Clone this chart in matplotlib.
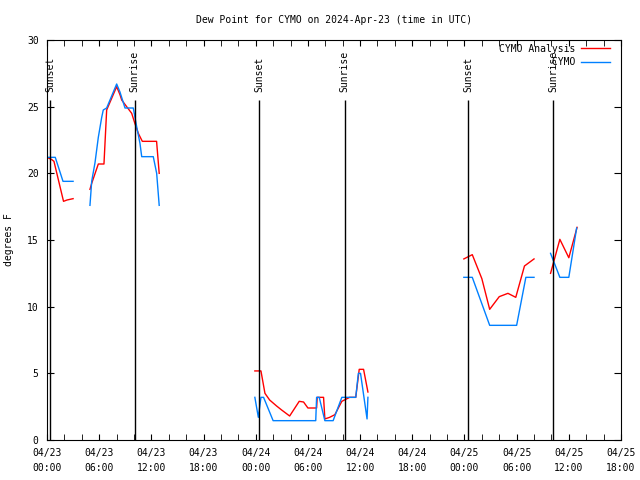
import matplotlib

matplotlib.use("Agg")

import matplotlib.pyplot as plt
import matplotlib.dates as mdates
import numpy as np
import pandas as pd

START = pd.Timestamp("2024-04-23 00:00")
END = pd.Timestamp("2024-04-25 18:00")

# hours after START; NaN marks a gap in the record
analysis_hours = [0.0, 0.5, 0.8, 1.9, 2.3, 3.0, np.nan,
                  4.94, 5.14, 5.9, 6.55, 6.86, 8.01, 8.39, 8.59, 9.16, 9.74, 10.1, 10.5, 10.96, 12.6, 12.9, np.nan,
                  23.9, 24.6, 25.06, 25.6, 26.4, 26.98, 27.9, 29.0, 29.5, 30.0, 31.0, 31.07, 31.8, 31.95, 32.5,
                  33.1, 33.9, 34.8, 35.5, 35.9, 36.4, 36.9, np.nan,
                  47.93, 48.9, 50.0, 50.9, 52.0, 53.0, 53.9, 54.9, 56.0, np.nan,
                  57.9, 58.97, 60.0, 60.95]
analysis_dewpt = [21.2, 21.05, 20.9, 17.9, 18.0, 18.1, np.nan,
                  18.8, 19.25, 20.7, 20.7, 24.75, 26.5, 25.9, 25.5, 25.0, 24.5, 23.75, 23.0, 22.4, 22.4, 20.0, np.nan,
                  5.18, 5.18, 3.5, 3.0, 2.55, 2.25, 1.8, 2.9, 2.85, 2.4, 2.4, 3.2, 3.2, 1.58, 1.7,
                  1.9, 2.9, 3.2, 3.2, 5.3, 5.3, 3.6, np.nan,
                  13.58, 13.9, 12.1, 9.8, 10.75, 11.0, 10.7, 13.05, 13.58, np.nan,
                  12.5, 15.05, 13.67, 15.95]

station_hours = [0.0, 0.95, 1.84, 3.0, np.nan,
                 4.94, 5.14, 5.52, 5.9, 6.29, 6.47, 6.86, 8.01, 8.39, 8.97, 9.92, 10.31, 10.69, 10.89, 12.22, 12.61, 12.9, np.nan,
                 23.9, 24.3, 24.6, 24.9, 26.0, 30.9, 31.0, 31.3, 31.95, 32.9, 33.9, 35.5, 35.8, 36.05, 36.8, 36.9, np.nan,
                 47.93, 48.9, 50.9, 54.0, 55.06, 56.0, np.nan,
                 57.9, 58.97, 60.0, 60.9]
station_dewpt = [21.2, 21.2, 19.4, 19.4, np.nan,
                 17.6, 19.4, 20.8, 22.7, 24.2, 24.75, 24.9, 26.7, 26.1, 24.9, 24.9, 23.5, 22.25, 21.25, 21.25, 20.0, 17.6, np.nan,
                 3.2, 1.7, 3.2, 3.2, 1.45, 1.45, 3.2, 3.2, 1.45, 1.45, 3.2, 3.2, 5.0, 5.0, 1.58, 3.2, np.nan,
                 12.2, 12.2, 8.6, 8.6, 12.2, 12.2, np.nan,
                 14.0, 12.2, 12.2, 15.9]

sun_events = ["Sunset", "Sunrise", "Sunset", "Sunrise", "Sunset", "Sunrise"]
sun_hours = [0.35, 10.1, 24.4, 34.25, 48.4, 58.2]

MONO = "DejaVu Sans Mono"
plt.rcParams["font.family"] = MONO
plt.rcParams["font.size"] = 7


def to_time(hours):
    # gaps keep the previous time; the NaN value breaks the line
    filled = pd.Series(hours, dtype=float).ffill()
    return (START + pd.to_timedelta(filled, unit="h")).to_numpy()


fig = plt.figure(figsize=(6.4, 4.8), dpi=100)
ax = fig.add_axes([47 / 640, 40 / 480, 574 / 640, 400 / 480])

ax.plot(to_time(analysis_hours), analysis_dewpt, color="#ff0000", lw=1, label="CYMO Analysis")
ax.plot(to_time(station_hours), station_dewpt, color="#0080ff", lw=1, label="         CYMO")

for name, t in zip(sun_events, to_time(sun_hours)):
    ax.vlines(t, 0, 25.5, color="black", lw=1)
    ax.text(t, 26.1, name, rotation=90, ha="center", va="bottom", fontsize=7)

ax.set_xlim(START, END)
ax.set_ylim(0, 30)
ax.set_yticks(np.arange(0, 31, 5))
ax.xaxis.set_major_locator(mdates.HourLocator(byhour=range(0, 24, 6)))
ax.xaxis.set_minor_locator(mdates.HourLocator(byhour=range(0, 24, 2)))
ax.xaxis.set_major_formatter(mdates.DateFormatter("%m/%d\n%H:%M"))
for lab in ax.get_xticklabels():
    lab.set_linespacing(1.6)
ax.tick_params(axis="both", which="both", direction="in", top=True, right=True, labelsize=7)
ax.tick_params(axis="x", which="both", length=4, pad=6)
ax.tick_params(axis="y", length=5, pad=6)

ax.set_ylabel("degrees F", fontsize=7, labelpad=9)
ax.set_title("Dew Point for CYMO on 2024-Apr-23 (time in UTC)", fontsize=7, pad=12)

ax.legend(loc="upper right", bbox_to_anchor=(0.988, 1.0), frameon=False, markerfirst=False,
          fontsize=7, handlelength=3.0, handletextpad=0.6, labelspacing=0.35, borderaxespad=0)

fig.savefig("out.png", dpi=100)
